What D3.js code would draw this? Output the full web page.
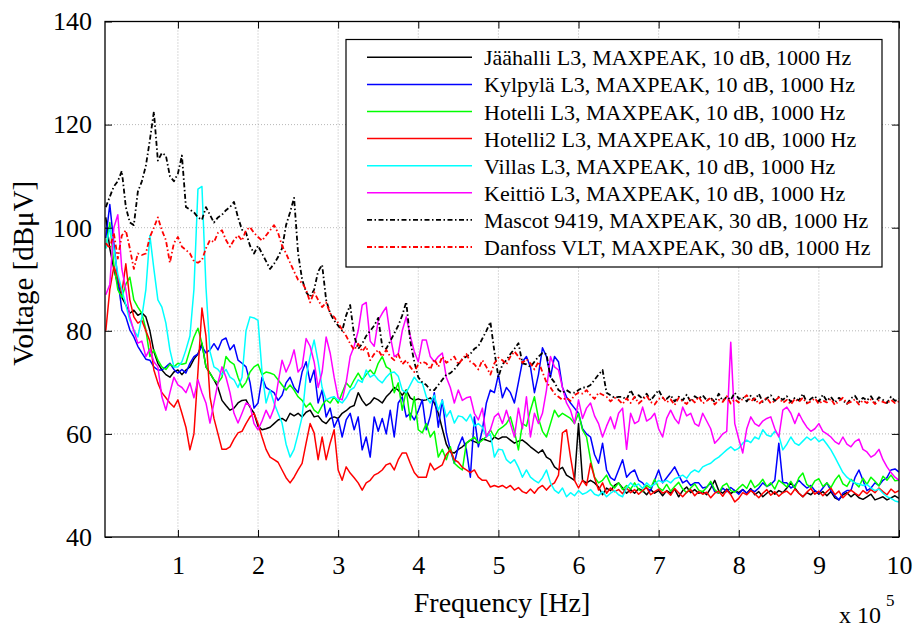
<!DOCTYPE html>
<html>
<head>
<meta charset="utf-8">
<script src="https://cdn.jsdelivr.net/npm/d3@7"></script>
<style>
  html, body { margin: 0; padding: 0; background: #ffffff; }
  svg, svg text { font-family: "Liberation Serif", "Tinos", "Times New Roman", "DejaVu Serif", "Noto Serif", serif; }
</style>
</head>
<body>
<svg id="chart" width="914" height="629"></svg>
<script>
// Sweep frequencies in kHz (5 kHz steps)
const freqKHz = [
  10,15,20,25,30,35,40,45,50,55,
  60,65,70,75,80,85,90,95,100,105,
  110,115,120,125,130,135,140,145,150,155,
  160,165,170,175,180,185,190,195,200,205,
  210,215,220,225,230,235,240,245,250,255,
  260,265,270,275,280,285,290,295,300,305,
  310,315,320,325,330,335,340,345,350,355,
  360,365,370,375,380,385,390,395,400,405,
  410,415,420,425,430,435,440,445,450,455,
  460,465,470,475,480,485,490,495,500,505,
  510,515,520,525,530,535,540,545,550,555,
  560,565,570,575,580,585,590,595,600,605,
  610,615,620,625,630,635,640,645,650,655,
  660,665,670,675,680,685,690,695,700,705,
  710,715,720,725,730,735,740,745,750,755,
  760,765,770,775,780,785,790,795,800,805,
  810,815,820,825,830,835,840,845,850,855,
  860,865,870,875,880,885,890,895,900,905,
  910,915,920,925,930,935,940,945,950,955,
  960,965,970,975,980,985,990,995,1000
];

// Measured levels in dBµV
const jaahalliL3 = [
  102,96,92,89,86.5,85,83.4,84,83,83.5,
  82.7,80,76,73.7,72.4,71.5,71,72,72.4,71.5,
  72.4,73,74.5,75.5,77.6,73,71.8,70.5,69,66.5,
  65.5,64.6,65,66,66.5,66.6,65.2,64,61.5,60.8,
  61,61.3,62,62.7,63,62.5,64,63.5,64,63.3,
  64.2,64.6,63.3,63.5,62.5,62,63,63.3,63,64,
  64.5,65.2,65.5,68,66.5,65.5,66,67,66.6,66,
  67.2,68,69,68.5,67.5,68.5,67,66.5,66.8,66.5,
  66.6,67,66,64,61,58,56.5,56.3,57,57.5,
  58.2,58.8,58.5,58.2,59,58.8,58.5,59.4,59,59.4,
  59.4,58.8,58.2,58.6,58.8,58.2,57.5,56.9,56.3,56.9,
  55.5,55,53.6,53,53.5,52,51.5,51,62,51,
  50.5,51,50.5,49.7,48.2,49.5,49,50,50.5,49.5,
  48.5,49.2,48.5,49.4,49,48.2,49.2,48.5,49,48,
  49,48.5,49.3,47.8,49,49.7,48.6,49.2,48.5,48.8,
  48.2,49.5,51,49,48.5,49.3,48.4,49,48.6,49.2,
  48.5,49.4,48.2,48.8,47.8,48.5,49,48.3,49,48.6,
  49.5,50.5,49.5,48.5,47.8,48.6,48.2,49,48.3,48.8,
  48,48.8,47.6,47.2,48.2,48.6,47.8,48.4,47.6,47.3,
  47.8,48.3,47.2,47.5,47.8,47.2,47.6,48,47.5
];
const kylpylaL3 = [
  98,104.5,97,90,84,82.7,80.2,78.8,77,75.7,
  74.5,74.3,73,72.4,72.4,73,73.7,72.5,71.8,72.5,
  71.8,73.7,75,75.5,77,75.7,76.3,77.5,76.3,78.2,
  78.6,76.3,77.3,74.3,73.7,73,70,65,66,71,
  69,68.5,68,66.5,67.5,69.9,71,69,68,72,
  74,70,72.4,66,68.5,63.3,65,61.3,63,59.4,
  62.7,64,60.8,63.3,56.9,59.4,55.5,63.3,60.5,63,
  60,64.6,59.4,66,67.2,63.3,64,62.7,64.5,66.6,
  60.8,63.5,68,61.3,66.6,60.2,56.9,54.3,57.5,59.4,
  57,51.6,63.3,57.5,60.8,66,68.5,68,71.5,67,
  69,68,66,70,74,75,73,68,71.5,76.7,
  75,71,75,74,69,67.2,66,65,64,61,
  60,59.4,56,54.3,58.2,53,51.5,51,53,55,
  51.6,52.5,53,51,50.5,49.5,49,51,53,50.5,
  51.5,52.5,53.6,52,50.5,51,50,50.5,50.5,49.5,
  49.7,50.5,48.8,48.5,49.5,48.8,49.6,49,48.3,49.2,
  48.5,49.2,48.8,49.5,50.5,49.8,50.2,51,58.2,50.5,
  50.5,49.5,50,51,50.2,49.5,50,49,48.5,49.5,
  50.5,49,48,47.2,48.5,49,49,51.5,53,51,
  49,49.5,50.5,50,51,51.5,53,53.2,52.6
];
const hotelliL3 = [
  96,101,93,88,86.5,89,90.4,86,84.6,83.4,
  80.2,75,76.3,74.3,73,72.5,73.5,73,73.7,73.5,
  73.7,76.3,78.8,80.5,77.6,73,71.8,70.5,69.9,71,
  75,74,73.5,71,69,70,72,73,73.5,71.5,
  72,71.8,71.5,70.5,69.5,68.5,69.5,68.5,67.2,66.5,
  65.2,66,64.6,64,65.5,66.6,66,67.2,66,68,
  69.9,69,70.5,71.8,70.5,71.5,72.4,71.5,73.7,75,
  73,72.5,68,69.9,64.6,68.5,62.7,67.2,60.8,60.2,
  62,59.4,60.5,55.5,57,55,57.5,54.3,53.6,53,
  58.2,58.8,59.4,58.2,58.8,59.5,60.8,59.4,60.8,61.3,
  62,63.3,60.5,56.9,62,61.5,64.6,67.2,63,60.5,
  59.4,62,64.6,63.3,64,63.5,63,62,64,60.8,
  59.4,55,51.6,50.5,51,52,50.2,49.5,50.5,49.2,
  50,49.3,50.5,49.2,48.8,50,49.5,51.2,49.6,49,
  50.2,48.9,49.8,50.6,49.3,48.6,49.5,50.3,49.1,48.8,
  49.6,50.8,49.2,48.5,49.9,50.4,49,48.7,49.5,50.2,
  49.4,51,49.6,50.2,51.2,49.8,50.5,49.3,51,50.4,
  49.7,50.8,49.5,51.5,52.4,50.2,49.6,50.9,51.3,49.8,
  50.5,49.6,51,52,50.3,49.8,51.2,50.5,49.7,51.4,
  50.2,51.6,50.8,49.9,51.8,51,52,50.9,51
];
const hotelli2L3 = [
  80,88,92.4,90.4,87.3,93,86,82.7,81.5,82,
  80,78,72.4,69.9,68,67,66,65.2,66.6,64,
  61.3,56.9,60,72,84.4,79,67.2,63,60,57,
  57,57.5,59,60.2,60.5,62,63.3,64,62,59.4,
  57,55.5,55,54.5,53,51.5,50.5,51.6,53,54.3,
  58.2,62,60.2,55,59.4,55,58.2,60.8,53,51,
  53.6,52.4,51.5,50.5,49.1,50.5,51,52,52.4,53,
  54,54.3,53,55,56.3,56.3,54.3,52.5,51.6,51.6,
  51.6,54.3,53,53.5,54,56,56.9,55,54.5,53.5,
  53,52.5,53,51.6,51,51,49.7,50,49.7,50,
  49.5,50,49.1,49.6,48.8,48.5,49.3,48.5,49.5,50,
  49.1,50,50.5,52,60.2,60.8,55.5,51,49.5,51,
  50,54.3,51.5,49.1,50.5,48.5,49.5,48.8,49.2,48.4,
  49.5,48.6,49.2,48.3,49,49.6,48.2,48.8,49.3,48.5,
  48.9,48.1,49.4,48.6,47.8,48.7,49.2,48,48.8,48.3,
  48.7,47.6,48.5,48.9,47.9,49.1,48.2,46.8,47.5,48.6,
  48.2,49,48.4,47.6,48.5,49.2,48.1,48.8,47.9,48.6,
  48.9,48.2,49.3,48.5,47.8,48.7,49.4,48.3,48.9,48,
  48.8,49.5,48.2,48.9,47.6,48.4,49.1,48.5,48,49,
  48.4,49.2,48.6,49.5,48.8,48.2,49.3,48.6,49
];
const villasL3 = [
  96,100,96,91,88,85,82,80.2,78.8,82.7,
  88,98.5,92,86,84.6,81.5,76.3,73,73,74,
  76.3,79,88,107.5,108,88.5,76,73,72.5,71.5,
  72.5,71,70.5,69,71,80,82.7,82.5,82,72,
  66,68.5,66,64,62.1,58,55.5,57,60,63.3,
  71,75,78.2,74,69,66.6,67,67.2,66.5,66,
  67,68.5,69,70.5,70,72.4,71,71.5,70.5,69.9,
  71,71.8,72,71.2,68.5,68,69.5,71,70,69.9,
  67.2,66,67.5,64.6,66.5,63.3,64.5,62.1,63.5,63.3,
  62.5,63.8,61.5,62,61.3,59.4,60,55.5,57,56.9,
  55,54.3,55,53.5,51.6,53,51.6,51,50.5,51.5,
  53,50.5,49.1,48.5,49.5,47.8,48.6,48,49,48.3,
  48.6,49.2,48.3,48,48.8,47.8,48.5,49,48.2,47.8,
  49.5,50.5,49.8,50.3,49.4,50.5,49.8,50.2,51,50.6,
  51,50.5,51.3,51.6,52,51.4,52.5,53,52.6,53.6,
  54,54.3,55,55.5,56.2,56.9,57.5,56.8,57.2,58.2,
  58.8,58.3,59.4,59,60.8,59.8,59.5,60.5,59.7,56.9,
  58,59.4,58.2,57.8,58.6,59.4,58.8,59.4,58.5,59,
  58,56.9,55.5,54,52.5,51.6,51,50.5,50.3,50,
  50.2,49.5,49,49.3,48.5,47.8,47.5,47,46.8
];
const keittioL3 = [
  87,89,100,102.5,92,88,82.7,80,77.6,78,
  75,76.5,74,73,67.2,64.6,68,71,69.5,69,
  68,69.9,67,70.5,68,66,62.1,66,69.9,73,
  71,68,64,62.1,64,66,65.5,62,60.8,62.5,
  64.6,63,65,69.9,74.3,72,73.7,76.3,72,73,
  78.5,77,74,69,72,78.8,75.7,71,67,66.6,
  70,75,77,80,85,85.5,78,77,82,83.4,
  84.6,79,75,75.5,80,82.7,79,76,74,78.2,
  78.2,75,74,75,75.7,71,69,66,68.5,66.5,
  67,67.2,64,62.7,65,59.4,60.8,63.3,64,62,
  64.6,62,59.4,65,61,67.2,59.4,64,62,64,
  68.5,75,73,72.4,69,66,64.6,62,66.6,63,
  65,66,63.5,62,59.4,61.5,63.3,61,64,65,
  57,64,62,62.5,65.2,62.5,63,64,61,59.4,
  63,64.6,63,62,65.2,63.5,64,62,61.5,64,
  62.5,61,58.2,59,60,60.5,77.8,62,59,56.3,
  61,63.3,62,61.5,62.5,63,63.3,61,59.4,64.6,
  65.2,64,62,64,62.5,61.3,60.5,61,62,60.5,
  60,59.4,58.5,58,59.4,58,57.5,58.5,59,57,
  56.5,55.5,56,57,55,53.6,52.5,51.6,51
];
const mascot9419 = [
  104,106,108,109,111,104,101,100.5,107,109,
  112,117,122.5,113,114.5,114,110,109,110.5,114,
  104,103.5,103,102,101.5,104,102.5,101,102,102.5,
  103.4,104,105,102,99.6,99,96.5,95,96.5,95,
  93.5,92,93,94.3,96,100.5,103,105.8,95,90,
  87.5,86.5,88,91.5,92.8,86,83.4,82,81,80,
  83,85,79,76.5,77.5,79,80,81,82.5,77,
  76.5,78,79.5,81,83,85.6,78,74,71,70,
  69.5,68.5,68.5,69.5,70.5,71.5,71.8,72.5,73.5,74.5,
  75,75.5,76.5,77,78.5,80,81.7,76,71,73.5,
  74.3,75.5,76.5,77.6,73.7,73.5,73,74,75,75.7,
  75.5,71,70,68.5,68,68.5,68,68,68.5,69,
  69,69.5,70.5,71.5,72.4,68,67.5,67,67.2,67.2,
  66.6,68.5,67,67.5,66.8,67.8,66.5,67.5,68.5,67,
  66.8,67.5,66.3,67.2,66.5,67.6,66.2,67.3,66.8,67.5,
  66.5,67,66.2,67.8,66.4,67.2,66.6,68,66.8,67.1,
  66.3,67.4,66.5,67.8,66.2,66.9,67.5,66.4,67.2,66.6,
  67.3,66.2,67,66.5,67.8,66.1,66.8,67.3,66.3,67.6,
  66.4,67.2,66.1,67,66.5,65.8,66.9,67.4,66.2,67,
  66.5,67.3,66.1,67.1,66.6,66,67.2,66.4,66.8
];
const danfossVLT = [
  97,96,99,94,98.5,99.5,96,92,95,94.7,
  95,98.2,100,102,99.5,97.6,93.2,97,98.2,96.3,
  95.7,95,93.5,93.2,93.7,96,97.6,97.2,99,99.5,
  97.6,96.3,97.6,98.5,97.5,99.5,100.1,99,98.2,97.5,
  98.5,99.5,100.5,99,96.5,95,93.2,91.5,89.9,89.3,
  88,85.5,87.5,86,84.6,85.5,83.4,82.7,81.5,80.2,
  79,77.5,76.3,77.5,76,77,74.3,75.5,76.3,75,
  76.3,75,74.3,75.5,73.5,74.3,73,72,73.5,74,
  73.7,72.5,74.5,73,75,73.8,74.3,75,73.5,74.5,
  75.5,74,73.5,72.5,74.3,73,71.5,73.7,74.8,74.3,
  73.5,75,76,75,73.8,74.5,73.7,72.5,74,72,
  70,69,67.8,67.2,66.6,67,66.4,67.5,68,67.8,
  68.5,67.5,66.8,68,67.6,67.2,66.3,67,66.6,65.8,
  66.9,66,67.2,65.9,66.6,67.4,66.2,65.7,66.8,67.1,
  66.1,66.7,65.6,67,66.3,65.8,66.9,66.1,67.2,65.9,
  66.4,67,65.7,66.6,66.2,67.3,65.9,66.7,66.1,66.8,
  67.5,66.3,66.9,65.8,66.5,67,65.9,66.4,67.1,66,
  66.6,65.7,66.8,66.2,67,65.9,66.3,66.9,65.8,66.5,
  66.1,66.8,65.6,66.4,67,65.9,66.2,66.7,65.7,66.5,
  66,66.7,65.8,66.5,66.2,65.9,66.6,66,66.3
];

const seriesNames = [
  "Jäähalli L3, MAXPEAK, 10 dB, 1000 Hz",
  "Kylpylä L3, MAXPEAK, 10 dB, 1000 Hz",
  "Hotelli L3, MAXPEAK, 10 dB, 1000 Hz",
  "Hotelli2 L3, MAXPEAK, 10 dB, 1000 Hz",
  "Villas L3, MAXPEAK, 10 dB, 1000 Hz",
  "Keittiö L3, MAXPEAK, 10 dB, 1000 Hz",
  "Mascot 9419, MAXPEAK, 30 dB, 1000 Hz",
  "Danfoss VLT, MAXPEAK, 30 dB, 1000 Hz"
];
const seriesValues = [jaahalliL3, kylpylaL3, hotelliL3, hotelli2L3, villasL3, keittioL3, mascot9419, danfossVLT];
const seriesColors = ["#000000", "#0000ff", "#00ff00", "#ff0000", "#00ffff", "#ff00ff", "#000000", "#ff0000"];
const seriesDash = [null, null, null, null, null, null, "5,2.5,1.5,2.5", "5,2.5,1.5,2.5"];
const seriesWidth = [1.5, 1.5, 1.5, 1.5, 1.5, 1.5, 1.8, 1.8];

const xTicks = [100000, 200000, 300000, 400000, 500000, 600000, 700000, 800000, 900000, 1000000];
const xTickLabels = ["1", "2", "3", "4", "5", "6", "7", "8", "9", "10"];
const yTicks = [40, 60, 80, 100, 120, 140];
const freqDomainHz = [9000, 1000000];
const levelDomain = [40, 140];

const FONT = "'Liberation Serif', 'Tinos', 'Times New Roman', 'DejaVu Serif', 'Noto Serif', serif";

// ---- layout ----
const svg = d3.select("#chart").attr("font-family", FONT);
const plot = { left: 105, right: 899, top: 21.5, bottom: 537 };
const x = d3.scaleLinear().domain(freqDomainHz).range([plot.left, plot.right]);
const y = d3.scaleLinear().domain(levelDomain).range([plot.bottom, plot.top]);

// dotted grid
const grid = svg.append("g")
  .attr("stroke", "#a5a5a5")
  .attr("stroke-width", 0.8)
  .attr("stroke-dasharray", "1,2");
grid.selectAll("line.gx")
  .data(xTicks.filter(t => t < freqDomainHz[1]))
  .join("line").attr("class", "gx")
  .attr("x1", d => x(d)).attr("x2", d => x(d))
  .attr("y1", plot.top).attr("y2", plot.bottom);
grid.selectAll("line.gy")
  .data(yTicks.filter(t => t > levelDomain[0] && t < levelDomain[1]))
  .join("line").attr("class", "gy")
  .attr("x1", plot.left).attr("x2", plot.right)
  .attr("y1", d => y(d)).attr("y2", d => y(d));

// data traces
svg.append("clipPath").attr("id", "plotClip")
  .append("rect")
  .attr("x", plot.left).attr("y", plot.top)
  .attr("width", plot.right - plot.left).attr("height", plot.bottom - plot.top);

const line = d3.line()
  .x((d, i) => x(freqKHz[i] * 1000))
  .y(d => y(d));

const traces = svg.append("g").attr("clip-path", "url(#plotClip)");
seriesValues.forEach((vals, k) => {
  traces.append("path")
    .datum(vals)
    .attr("fill", "none")
    .attr("stroke", seriesColors[k])
    .attr("stroke-width", seriesWidth[k])
    .attr("stroke-linejoin", "round")
    .attr("stroke-dasharray", seriesDash[k])
    .attr("d", line);
});

// axes with inward ticks on all four sides
const tickLen = 7;
const axB = svg.append("g").attr("transform", `translate(0,${plot.bottom})`)
  .call(d3.axisBottom(x).tickValues(xTicks).tickFormat((d, i) => xTickLabels[i])
    .tickSizeInner(-tickLen).tickSizeOuter(0).tickPadding(19));
const axT = svg.append("g").attr("transform", `translate(0,${plot.top})`)
  .call(d3.axisTop(x).tickValues(xTicks).tickFormat("")
    .tickSizeInner(-tickLen).tickSizeOuter(0));
const axL = svg.append("g").attr("transform", `translate(${plot.left},0)`)
  .call(d3.axisLeft(y).tickValues(yTicks).tickFormat(d3.format("d"))
    .tickSizeInner(-tickLen).tickSizeOuter(0).tickPadding(13));
const axR = svg.append("g").attr("transform", `translate(${plot.right},0)`)
  .call(d3.axisRight(y).tickValues(yTicks).tickFormat("")
    .tickSizeInner(-tickLen).tickSizeOuter(0));

[axB, axT, axL, axR].forEach(g => {
  g.attr("font-family", FONT);
  g.select(".domain").remove();
  g.selectAll(".tick line").attr("stroke", "#000").attr("stroke-width", 1);
  g.selectAll("text")
    .attr("fill", "#000")
    .attr("font-family", FONT)
    .attr("font-size", 26);
});

// axes box
svg.append("rect")
  .attr("x", plot.left).attr("y", plot.top)
  .attr("width", plot.right - plot.left).attr("height", plot.bottom - plot.top)
  .attr("fill", "none").attr("stroke", "#000").attr("stroke-width", 1.3);

// axis titles
svg.append("text")
  .attr("x", (plot.left + plot.right) / 2).attr("y", 612)
  .attr("text-anchor", "middle")
  .attr("font-family", FONT).attr("font-size", 28).attr("fill", "#000")
  .text("Frequency [Hz]");

svg.append("text")
  .attr("transform", `translate(33,${(plot.top + plot.bottom) / 2 - 6}) rotate(-90)`)
  .attr("text-anchor", "middle")
  .attr("font-family", FONT).attr("font-size", 29).attr("fill", "#000")
  .text("Voltage [dBμV]");

// exponent of the frequency axis
svg.append("text")
  .attr("x", 839).attr("y", 623)
  .attr("font-family", FONT).attr("font-size", 24).attr("fill", "#000")
  .text("x 10");
svg.append("text")
  .attr("x", 886).attr("y", 606)
  .attr("font-family", FONT).attr("font-size", 17).attr("fill", "#000")
  .text("5");

// legend
const legendBox = { x: 346, y: 39.5, w: 536, h: 227.5 };
const legend = svg.append("g");
legend.append("rect")
  .attr("x", legendBox.x).attr("y", legendBox.y)
  .attr("width", legendBox.w).attr("height", legendBox.h)
  .attr("fill", "#fff").attr("stroke", "#000").attr("stroke-width", 1.2);

const rowY0 = 57.3, rowStep = 27.1;
seriesNames.forEach((name, k) => {
  const ry = rowY0 + k * rowStep;
  legend.append("line")
    .attr("x1", 367).attr("x2", 472)
    .attr("y1", ry).attr("y2", ry)
    .attr("stroke", seriesColors[k])
    .attr("stroke-width", seriesWidth[k])
    .attr("stroke-dasharray", seriesDash[k]);
  legend.append("text")
    .attr("x", 484).attr("y", ry + 8)
    .attr("font-family", FONT).attr("font-size", 22).attr("fill", "#000")
    .text(name);
});
</script>
</body>
</html>
